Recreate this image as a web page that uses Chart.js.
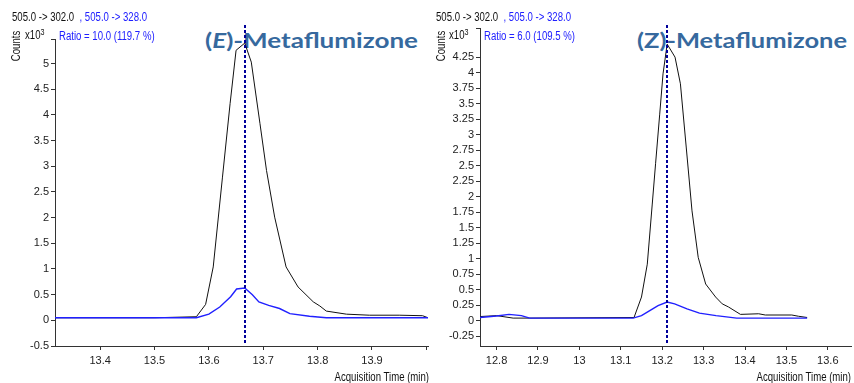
<!DOCTYPE html>
<html>
<head>
<meta charset="utf-8">
<script src="https://cdn.jsdelivr.net/npm/chart.js@4.4.1/dist/chart.umd.min.js"></script>
<style>
  html, body { margin: 0; padding: 0; background: #fff; }
  #wrap { position: relative; width: 854px; height: 383px; overflow: hidden; }
  canvas { position: absolute; top: 0; z-index: 1; }
  .txt { position: absolute; font: 12px 'Liberation Sans', Arial, sans-serif; color: #111; white-space: nowrap; z-index: 2;
         line-height: 12px; transform: scaleX(0.8); transform-origin: 0 50%; }
  .txt.end { transform-origin: 100% 50%; }
  .blue { color: #2020ff; }
  .title { position: absolute; z-index: 0; font-family: Lato, 'Open Sans', sans-serif; font-weight: 700; font-size: 21px;
           color: #36699e; white-space: nowrap; line-height: 24px; transform-origin: 0 50%; }
  .txt.counts { transform: rotate(-90deg) scaleX(0.8); transform-origin: 50% 50%; }
  sup { font-size: 9px; vertical-align: 4px; line-height: 0; }
</style>
</head>
<body>
<div id="wrap">
  <div class="title" id="titleE" style="left:205px; top:28px;">(<i>E</i>)-Metaflumizone</div>
  <div class="title" id="titleZ" style="left:637px; top:28px;">(Z)-Metaflumizone</div>

  <canvas id="chartE" width="432" height="383" style="left:0; width:432px; height:383px;"></canvas>
  <canvas id="chartZ" width="422" height="383" style="left:432px; width:422px; height:383px;"></canvas>

  <div class="txt" style="left:12px; top:11px;">505.0 -&gt; 302.0 <span class="blue">&nbsp;, 505.0 -&gt; 328.0</span></div>
  <div class="txt" style="left:25px; top:29px;">x10<sup>3</sup></div>
  <div class="txt blue" style="left:59px; top:30px;">Ratio = 10.0 (119.7 %)</div>
  <div class="txt counts" style="left:-4px; top:40px; width:40px; text-align:center;">Counts</div>
  <div class="txt end" style="left:280px; top:371px; width:149px; text-align:right;">Acquisition Time (min)</div>

  <div class="txt" style="left:436px; top:11px;">505.0 -&gt; 302.0 <span class="blue">&nbsp;, 505.0 -&gt; 328.0</span></div>
  <div class="txt" style="left:449px; top:29px;">x10<sup>3</sup></div>
  <div class="txt blue" style="left:484px; top:30px;">Ratio = 6.0 (109.5 %)</div>
  <div class="txt counts" style="left:421px; top:40px; width:40px; text-align:center;">Counts</div>
  <div class="txt end" style="left:702px; top:371px; width:149px; text-align:right;">Acquisition Time (min)</div>
</div>

<script>
// (E)-isomer, 505.0 -> 302.0 (quantifier, black) and 505.0 -> 328.0 (qualifier, blue), counts x10^3
const eQuantTime = [13.317, 13.50, 13.577, 13.594, 13.608, 13.625, 13.639, 13.650, 13.666, 13.678, 13.694, 13.706, 13.721, 13.742, 13.764, 13.792, 13.804, 13.816, 13.853, 13.895, 13.95, 13.993, 14.003];
const eQuantCounts = [0.05, 0.05, 0.07, 0.31, 1.04, 2.79, 4.22, 5.26, 5.40, 5.03, 3.83, 2.92, 2.01, 1.04, 0.65, 0.36, 0.28, 0.18, 0.12, 0.10, 0.10, 0.09, 0.05];
const eQualTime = [13.317, 13.577, 13.60, 13.62, 13.64, 13.651, 13.666, 13.68, 13.692, 13.71, 13.73, 13.749, 13.785, 13.816, 14.003];
const eQualCounts = [0.05, 0.05, 0.12, 0.26, 0.46, 0.61, 0.63, 0.50, 0.36, 0.29, 0.23, 0.13, 0.08, 0.05, 0.05];
const eRetention = 13.666;
const eXTicks = [13.4, 13.5, 13.6, 13.7, 13.8, 13.9, 14.0];
const eYTicks = [-0.5, 0, 0.5, 1, 1.5, 2, 2.5, 3, 3.5, 4, 4.5, 5];

// (Z)-isomer
const zQuantTime = [12.76, 12.80, 12.84, 12.88, 13.132, 13.150, 13.164, 13.176, 13.184, 13.194, 13.202, 13.212, 13.231, 13.244, 13.258, 13.272, 13.287, 13.305, 13.329, 13.345, 13.36, 13.389, 13.433, 13.449, 13.513, 13.529, 13.55];
const zQuantCounts = [0.065, 0.08, 0.04, 0.04, 0.05, 0.38, 0.91, 1.88, 2.53, 3.33, 3.98, 4.46, 4.25, 3.82, 2.80, 1.77, 1.02, 0.59, 0.38, 0.27, 0.22, 0.10, 0.11, 0.09, 0.09, 0.07, 0.05];
const zQualTime = [12.76, 12.80, 12.83, 12.86, 12.88, 13.13, 13.15, 13.17, 13.19, 13.212, 13.23, 13.26, 13.29, 13.33, 13.38, 13.55];
const zQualCounts = [0.05, 0.075, 0.10, 0.08, 0.04, 0.04, 0.08, 0.16, 0.24, 0.30, 0.27, 0.19, 0.12, 0.08, 0.04, 0.04];
const zRetention = 13.212;
const zXTicks = [12.8, 12.9, 13, 13.1, 13.2, 13.3, 13.4, 13.5, 13.6];
const zYTicks = [-0.25, 0, 0.25, 0.5, 0.75, 1, 1.25, 1.5, 1.75, 2, 2.25, 2.5, 2.75, 3, 3.25, 3.5, 3.75, 4, 4.25];

const tickFont = { family: "'Liberation Sans', Arial, sans-serif", size: 11 };
const axisColor = '#333';

function toPoints(xs, ys) {
    return xs.map((x, i) => ({ x: x, y: ys[i] }));
}

// dotted marker at the retention time
const rtMarker = {
    id: 'rtMarker',
    afterDatasetsDraw(chart, args, opts) {
        const { ctx, chartArea, scales } = chart;
        const x = Math.round(scales.x.getPixelForValue(opts.value));
        ctx.save();
        ctx.strokeStyle = '#00009a';
        ctx.lineWidth = 2;
        ctx.setLineDash([3, 2]);
        ctx.beginPath();
        ctx.moveTo(x, 25);
        ctx.lineTo(x, chartArea.bottom - 3);
        ctx.stroke();
        ctx.restore();
    }
};

function makeChart(id, cfg) {
    new Chart(document.getElementById(id), {
        type: 'scatter',
        data: {
            datasets: [
                {
                    data: toPoints(cfg.qualTime, cfg.qualCounts),
                    showLine: true, borderColor: '#2020ff', borderWidth: 1.4,
                    pointRadius: 0, tension: 0, order: 0
                },
                {
                    data: toPoints(cfg.quantTime, cfg.quantCounts),
                    showLine: true, borderColor: '#111', borderWidth: 1,
                    pointRadius: 0, tension: 0, order: 1
                }
            ]
        },
        options: {
            responsive: false,
            animation: false,
            events: [],
            layout: { padding: cfg.padding },
            plugins: {
                legend: { display: false },
                tooltip: { enabled: false },
                rtMarker: { value: cfg.rt }
            },
            scales: {
                x: {
                    type: 'linear', min: cfg.xMin, max: cfg.xMax,
                    grid: { drawOnChartArea: false, tickLength: 4, tickColor: axisColor },
                    border: { color: axisColor, width: 1 },
                    ticks: {
                        font: tickFont, color: '#222', padding: 4, autoSkip: false, maxRotation: 0,
                        callback: v => (cfg.xTicks.includes(v) && v < cfg.xMax - 0.02) ? String(+v.toFixed(2)) : ''
                    },
                    afterBuildTicks: axis => { axis.ticks = cfg.xTicks.map(v => ({ value: v })); },
                    afterFit: s => { s.height = 37; s.paddingLeft = 0; s.paddingRight = 0; }
                },
                y: {
                    type: 'linear', min: cfg.yMin, max: cfg.yMax,
                    grid: { drawOnChartArea: false, tickLength: 4, tickColor: axisColor },
                    border: { color: axisColor, width: 1 },
                    ticks: {
                        font: tickFont, color: '#222', padding: 2, autoSkip: false,
                        callback: v => cfg.yTicks.includes(v) ? String(+v.toFixed(2)) : ''
                    },
                    afterBuildTicks: axis => {
                        const t = cfg.yTicks.map(v => ({ value: v }));
                        if (cfg.topTick) t.push({ value: cfg.yMax });
                        axis.ticks = t;
                    },
                    afterFit: s => { s.width = cfg.yWidth; s.paddingTop = 0; s.paddingBottom = 0; }
                }
            }
        },
        plugins: [rtMarker]
    });
}

makeChart('chartE', {
    quantTime: eQuantTime, quantCounts: eQuantCounts,
    qualTime: eQualTime, qualCounts: eQualCounts,
    rt: eRetention, xTicks: eXTicks, yTicks: eYTicks,
    xMin: 13.317, xMax: 14.003, yMin: -0.5, yMax: 5.48, topTick: true,
    yWidth: 55, padding: { left: 0, top: 39, right: 4, bottom: 0 }
});

makeChart('chartZ', {
    quantTime: zQuantTime, quantCounts: zQuantCounts,
    qualTime: zQualTime, qualCounts: zQualCounts,
    rt: zRetention, xTicks: zXTicks, yTicks: zYTicks,
    xMin: 12.76, xMax: 13.656, yMin: -0.41, yMax: 4.72, topTick: true,
    yWidth: 48, padding: { left: 0, top: 28, right: 3, bottom: 0 }
});

// stretch the titles to the widths seen in the original
[['titleE', 213], ['titleZ', 210]].forEach(([id, w]) => {
    const el = document.getElementById(id);
    el.style.transform = 'scaleX(' + (w / el.getBoundingClientRect().width) + ')';
});
</script>
</body>
</html>
